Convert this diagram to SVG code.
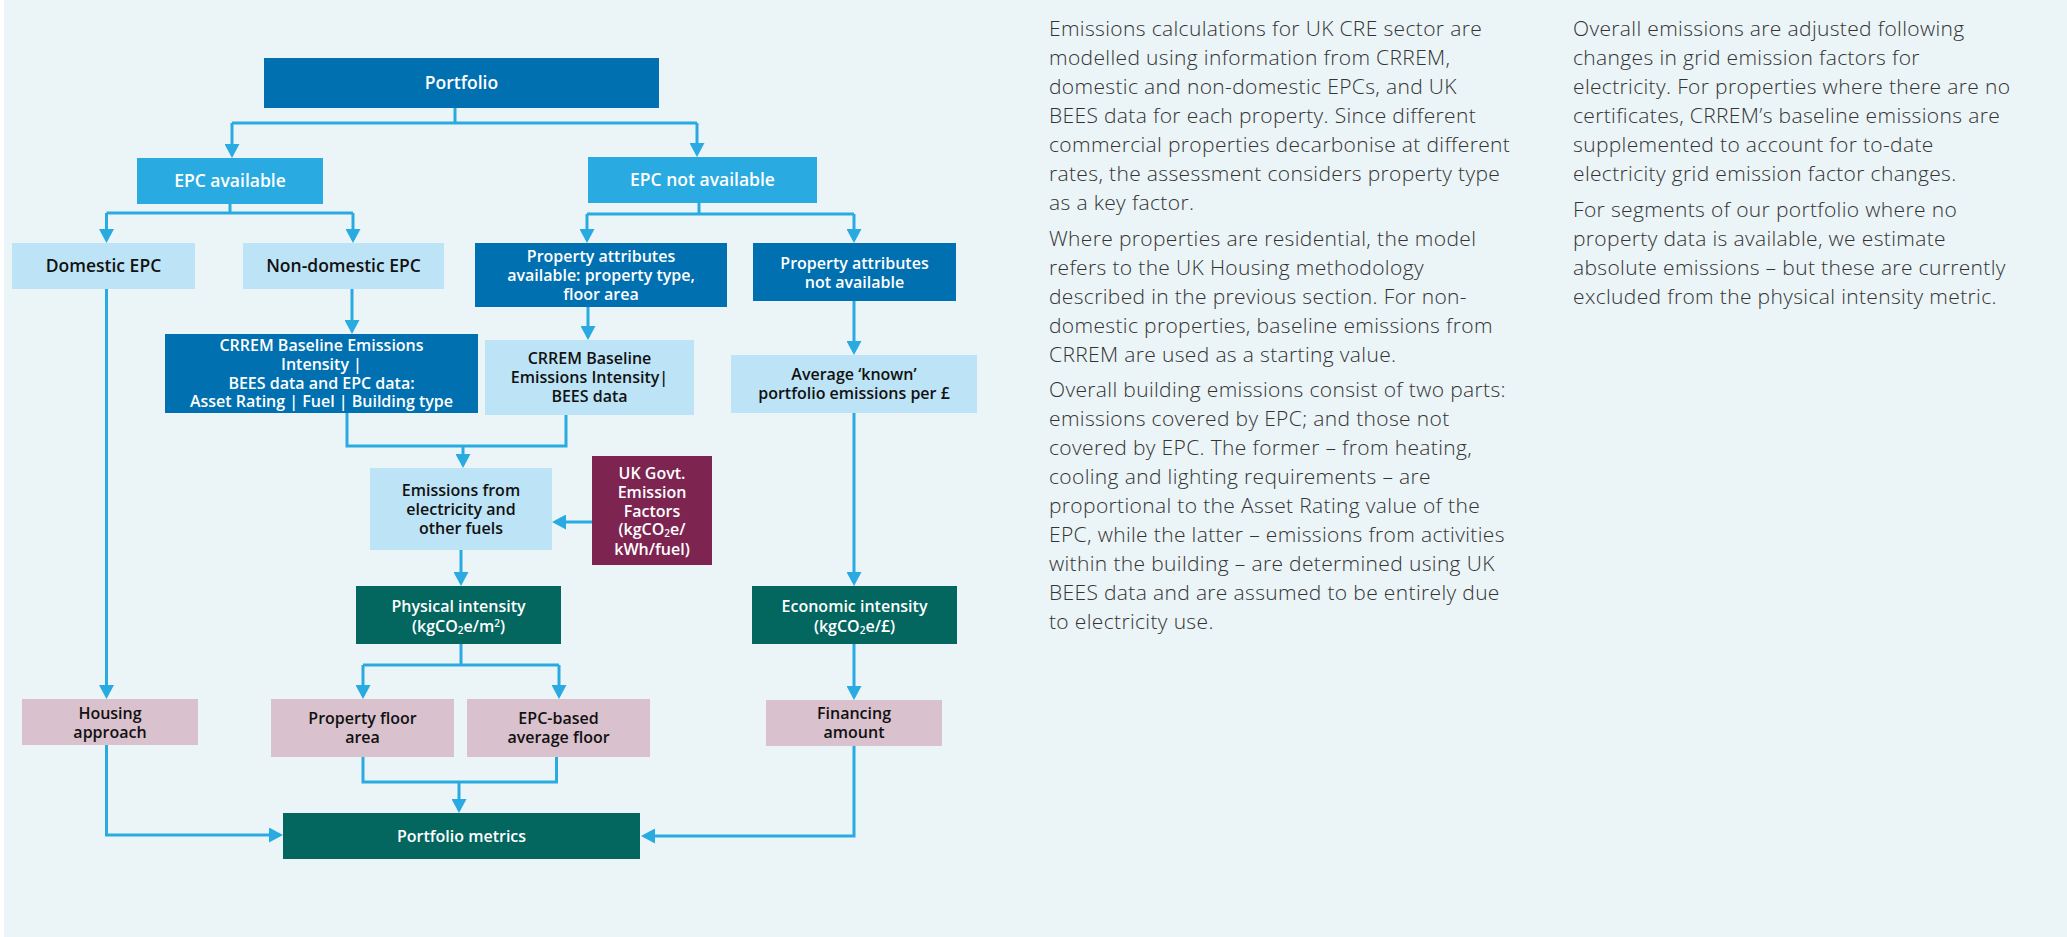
<svg xmlns="http://www.w3.org/2000/svg" width="2067" height="937" viewBox="0 0 2067 937">
<defs>
<marker id="ah" markerWidth="14" markerHeight="15" refX="11" refY="7.5" orient="auto" markerUnits="userSpaceOnUse"><path d="M0,0 L14,7.5 L0,15 z" fill="#29ABE2"/></marker>
<style>
.bg{fill:#EBF4F7}
.dk{fill:#0070B0}
.md{fill:#29ABE2}
.lt{fill:#BDE4F6}
.tl{fill:#03665F}
.mr{fill:#7D2451}
.pk{fill:#D9C1CD}
.t{font-family:"Open Sans","Liberation Sans",sans-serif;font-weight:600;font-size:16px;text-anchor:middle}
.w{fill:#FFFFFF}
.b{fill:#111111}
.big{font-size:17.5px}
.c{fill:none;stroke:#29ABE2;stroke-width:3}
.a{marker-end:url(#ah)}
.p{font-family:"Open Sans","Liberation Sans",sans-serif;font-weight:300;font-size:21px;letter-spacing:0.35px;fill:#333333}
.sub{font-size:10px}
</style>
</defs>
<rect class="bg" x="4" y="0" width="2063" height="937"/>

<g id="connectors">
<path class="c" d="M455,108 V123 M232,123 H697"/>
<path class="c a" d="M232,123 V155"/>
<path class="c a" d="M697,123 V154"/>
<path class="c" d="M230,204 V213 M106.5,213 H353"/>
<path class="c a" d="M106.5,213 V240"/>
<path class="c a" d="M353,213 V240"/>
<path class="c a" d="M106.5,289 V696"/>
<path class="c a" d="M352,289 V331"/>
<path class="c" d="M699,203 V214 M587,214 H854"/>
<path class="c a" d="M587,214 V240"/>
<path class="c a" d="M854,214 V240"/>
<path class="c a" d="M588,307 V337"/>
<path class="c a" d="M854,301 V352"/>
<path class="c" d="M347,413 V446 H566 V415"/>
<path class="c a" d="M463,446 V465"/>
<path class="c a" d="M592,522 H555"/>
<path class="c a" d="M461,550 V583"/>
<path class="c a" d="M854,413 V583"/>
<path class="c" d="M461,644 V665 M363,665 H559"/>
<path class="c a" d="M363,665 V696"/>
<path class="c a" d="M559,665 V696"/>
<path class="c" d="M363,757 V782 H556.5 V757"/>
<path class="c a" d="M459,782 V810"/>
<path class="c a" d="M106.5,745 V835 H280"/>
<path class="c a" d="M854,644 V697"/>
<path class="c a" d="M854,746 V836 H644"/>
</g>

<g id="portfolio"><rect class="dk" x="264" y="58" width="395" height="50"/><text class="t w big" x="461.5" y="89">Portfolio</text></g>
<g id="epc-available"><rect class="md" x="137" y="158" width="186" height="46"/><text class="t w big" x="230" y="187">EPC available</text></g>
<g id="epc-not-available"><rect class="md" x="588" y="157" width="229" height="46"/><text class="t w big" x="702.5" y="186">EPC not available</text></g>
<g id="domestic-epc"><rect class="lt" x="12" y="243" width="183" height="46"/><text class="t b big" x="103.5" y="272">Domestic EPC</text></g>
<g id="non-domestic-epc"><rect class="lt" x="243" y="243" width="201" height="46"/><text class="t b big" x="343.5" y="272">Non-domestic EPC</text></g>
<g id="attributes-available"><rect class="dk" x="475" y="243" width="252" height="64"/><text class="t w" x="601" y="262">Property attributes</text><text class="t w" x="601" y="281">available: property type,</text><text class="t w" x="601" y="300">floor area</text></g>
<g id="attributes-not-available"><rect class="dk" x="753" y="243" width="203" height="58"/><text class="t w" x="854.5" y="268.5">Property attributes</text><text class="t w" x="854.5" y="287.5">not available</text></g>
<g id="crrem-bees-epc"><rect class="dk" x="165" y="334" width="313" height="79"/><text class="t w" x="321.5" y="351">CRREM Baseline Emissions</text><text class="t w" x="321.5" y="370">Intensity |</text><text class="t w" x="321.5" y="388.5">BEES data and EPC data:</text><text class="t w" x="321.5" y="407">Asset Rating | Fuel | Building type</text></g>
<g id="crrem-bees"><rect class="lt" x="485" y="340" width="209" height="75"/><text class="t b" x="589.5" y="364">CRREM Baseline</text><text class="t b" x="589.5" y="383">Emissions Intensity|</text><text class="t b" x="589.5" y="401.5">BEES data</text></g>
<g id="average-known"><rect class="lt" x="731" y="355" width="246" height="58"/><text class="t b" x="854" y="380">Average ‘known’</text><text class="t b" x="854" y="399">portfolio emissions per £</text></g>
<g id="emissions-fuels"><rect class="lt" x="370" y="468" width="182" height="82"/><text class="t b" x="461" y="496">Emissions from</text><text class="t b" x="461" y="515">electricity and</text><text class="t b" x="461" y="534">other fuels</text></g>
<g id="uk-govt"><rect class="mr" x="592" y="456" width="120" height="109"/><text class="t w" x="652" y="479">UK Govt.</text><text class="t w" x="652" y="498">Emission</text><text class="t w" x="652" y="516.5">Factors</text><text class="t w" x="652" y="535">(kgCO<tspan class="sub" dy="2">2</tspan><tspan dy="-2">e/</tspan></text><text class="t w" x="652" y="555">kWh/fuel)</text></g>
<g id="physical-intensity"><rect class="tl" x="356" y="586" width="205" height="58"/><text class="t w" x="458.5" y="611.5">Physical intensity</text><text class="t w" x="458.5" y="632">(kgCO<tspan class="sub" dy="2">2</tspan><tspan dy="-2">e/m</tspan><tspan class="sub" dy="-5">2</tspan><tspan dy="5">)</tspan></text></g>
<g id="economic-intensity"><rect class="tl" x="752" y="586" width="205" height="58"/><text class="t w" x="854.5" y="611.5">Economic intensity</text><text class="t w" x="854.5" y="632">(kgCO<tspan class="sub" dy="2">2</tspan><tspan dy="-2">e/£)</tspan></text></g>
<g id="housing-approach"><rect class="pk" x="22" y="699" width="176" height="46"/><text class="t b" x="110" y="718.5">Housing</text><text class="t b" x="110" y="737.5">approach</text></g>
<g id="property-floor-area"><rect class="pk" x="271" y="699" width="183" height="58"/><text class="t b" x="362.5" y="724">Property floor</text><text class="t b" x="362.5" y="743">area</text></g>
<g id="epc-average-floor"><rect class="pk" x="467" y="699" width="183" height="58"/><text class="t b" x="558.5" y="724">EPC-based</text><text class="t b" x="558.5" y="743">average floor</text></g>
<g id="financing-amount"><rect class="pk" x="766" y="700" width="176" height="46"/><text class="t b" x="854" y="719">Financing</text><text class="t b" x="854" y="738">amount</text></g>
<g id="portfolio-metrics"><rect class="tl" x="283" y="813" width="357" height="46"/><text class="t w" x="461.5" y="842">Portfolio metrics</text></g>

<g id="text-column-1">
<text class="p" x="1049" y="36">Emissions calculations for UK CRE sector are</text>
<text class="p" x="1049" y="65">modelled using information from CRREM,</text>
<text class="p" x="1049" y="94">domestic and non-domestic EPCs, and UK</text>
<text class="p" x="1049" y="123">BEES data for each property. Since different</text>
<text class="p" x="1049" y="152">commercial properties decarbonise at different</text>
<text class="p" x="1049" y="181">rates, the assessment considers property type</text>
<text class="p" x="1049" y="210">as a key factor.</text>
<text class="p" x="1049" y="245.5">Where properties are residential, the model</text>
<text class="p" x="1049" y="274.5">refers to the UK Housing methodology</text>
<text class="p" x="1049" y="303.5">described in the previous section. For non-</text>
<text class="p" x="1049" y="332.5">domestic properties, baseline emissions from</text>
<text class="p" x="1049" y="361.5">CRREM are used as a starting value.</text>
<text class="p" x="1049" y="397">Overall building emissions consist of two parts:</text>
<text class="p" x="1049" y="426">emissions covered by EPC; and those not</text>
<text class="p" x="1049" y="455">covered by EPC. The former – from heating,</text>
<text class="p" x="1049" y="484">cooling and lighting requirements – are</text>
<text class="p" x="1049" y="513">proportional to the Asset Rating value of the</text>
<text class="p" x="1049" y="542">EPC, while the latter – emissions from activities</text>
<text class="p" x="1049" y="571">within the building – are determined using UK</text>
<text class="p" x="1049" y="600">BEES data and are assumed to be entirely due</text>
<text class="p" x="1049" y="629">to electricity use.</text>
</g>
<g id="text-column-2">
<text class="p" x="1573" y="36">Overall emissions are adjusted following</text>
<text class="p" x="1573" y="65">changes in grid emission factors for</text>
<text class="p" x="1573" y="94">electricity. For properties where there are no</text>
<text class="p" x="1573" y="123">certificates, CRREM’s baseline emissions are</text>
<text class="p" x="1573" y="152">supplemented to account for to-date</text>
<text class="p" x="1573" y="181">electricity grid emission factor changes.</text>
<text class="p" x="1573" y="217">For segments of our portfolio where no</text>
<text class="p" x="1573" y="246">property data is available, we estimate</text>
<text class="p" x="1573" y="275">absolute emissions – but these are currently</text>
<text class="p" x="1573" y="304">excluded from the physical intensity metric.</text>
</g>
</svg>
